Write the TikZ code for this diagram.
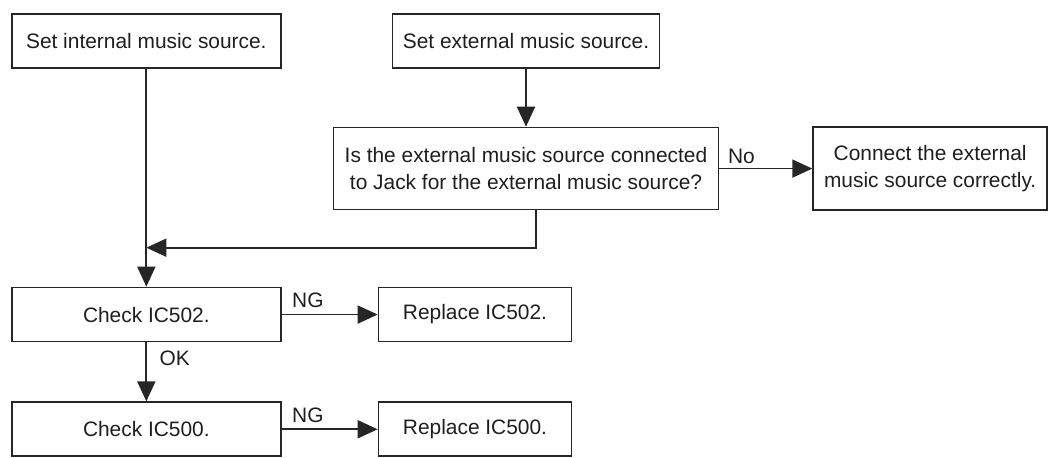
\documentclass[tikz,border=0pt]{standalone}
\usepackage{fontspec}
\setmainfont{Liberation Sans}
\usepackage{xcolor}
\definecolor{linecol}{HTML}{262626}
\definecolor{textcol}{HTML}{1E1E1E}
\usetikzlibrary{arrows.meta, positioning, calc}

\begin{document}
\begin{tikzpicture}[>={Triangle[length=4.0mm, width=3.6mm]},
  box/.style={draw=linecol, line width=1pt, minimum height=1.08cm,
    align=center, text=textcol, font=\fontsize{11.9}{15.5}\selectfont},
  flow/.style={->, draw=linecol, line width=1pt},
  tag/.style={text=textcol, font=\fontsize{11.9}{14}\selectfont, inner sep=2pt}]

  % sources
  \node[box, minimum width=5.38cm] (intsrc) {Set internal music source.};
  \node[box, minimum width=5.34cm, right=2.2cm of intsrc] (extsrc)
        {Set external music source.};

  % jack check
  \node[box, minimum width=7.7cm, minimum height=1.64cm,
        below=1.16cm of extsrc] (jack)
        {Is the external music source connected\\to Jack for the external music source?};
  \node[box, minimum width=4.68cm, minimum height=1.66cm,
        right=1.86cm of jack] (connect)
        {Connect the external\\music source correctly.};

  % IC checks
  \node[box, minimum width=5.38cm, below=4.36cm of intsrc] (chk502) {Check IC502.};
  \node[box, minimum width=3.86cm, right=1.92cm of chk502] (rep502) {Replace IC502.};
  \node[box, minimum width=5.38cm, below=1.18cm of chk502] (chk500) {Check IC500.};
  \node[box, minimum width=3.86cm, right=1.92cm of chk500] (rep500) {Replace IC500.};

  \coordinate[below=3.58cm of intsrc] (join);

  % connectors
  \draw[flow] (extsrc) -- (jack);
  \draw[flow] (jack) -- node[tag, pos=0, anchor=south west, xshift=2.5pt]{No} (connect);
  \draw[flow] ([xshift=2mm]jack.south) |- (join);
  \draw[flow] (intsrc) -- (chk502);
  \draw[flow] (chk502) -- node[tag, pos=0, anchor=south west, xshift=3.5pt, yshift=1.5pt]{NG} (rep502);
  \draw[flow] (chk502) -- node[tag, pos=0, anchor=north west, xshift=5pt, yshift=-2.5pt]{OK} (chk500);
  \draw[flow] (chk500) -- node[tag, pos=0, anchor=south west, xshift=3.5pt, yshift=1.5pt]{NG} (rep500);

  \path[use as bounding box] ($(intsrc.north west)+(-0.22,0.26)$) rectangle ++(20.96,-9.14);

\end{tikzpicture}
\end{document}
